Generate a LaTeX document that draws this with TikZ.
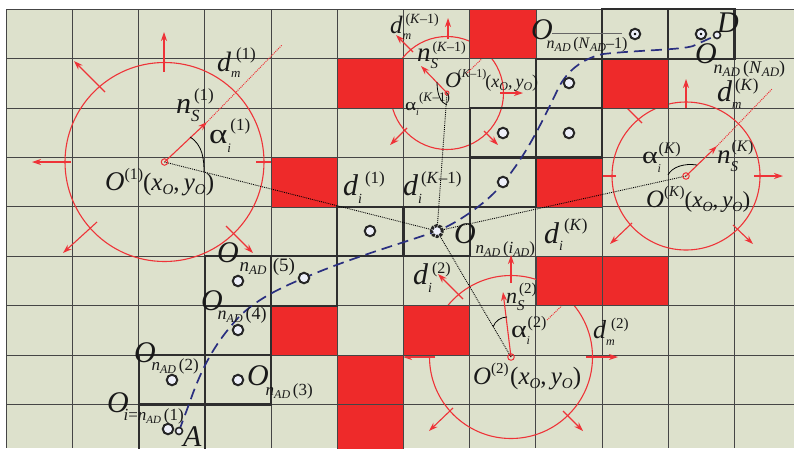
\documentclass[tikz,border=0pt]{standalone}
\usepackage{fontspec}
\usepackage{graphicx}
\setmainfont{Liberation Serif}
\usetikzlibrary{arrows.meta}
\newcommand\SZ[2]{{\fontsize{#1}{#1}\selectfont #2}}
\newcommand\UP[2]{\raisebox{#1pt}{#2}}
\newcommand\AL[1]{\SZ{#1}{\scalebox{1.25}[1]{α}}}
% main letter, then superscript (raise,content) and subscript (drop,content)
\newcommand\SupSub[4]{\rlap{\UP{#1}{#2}}\UP{-#3}{#4}}
\newcommand\Pos[3]{\SZ{#1}{(\textit{x}}\UP{-#3}{\SZ{#2}{\textit{O}}}\SZ{#1}{,\,\textit{y}}\UP{-#3}{\SZ{#2}{\textit{O}}}\SZ{#1}{)}}
\newcommand\NAD[3]{\SZ{#1}{\textit{n}}\UP{-3}{\SZ{#2}{\textit{AD}}}\SZ{#1}{\,#3}}
\definecolor{cellbg}{HTML}{DDE1CC}
\definecolor{gridc}{HTML}{454545}
\definecolor{redc}{HTML}{EE2A2A}
\definecolor{arrc}{HTML}{EE3338}
\definecolor{pathc}{HTML}{2A2F80}
\definecolor{ptc}{HTML}{EEF0FA}
\tikzset{
  lbl/.style={anchor=base west,inner sep=0pt,outer sep=0pt,text=black!90},
  ring/.style={draw=arrc,line width=1.1pt},
  radial/.style={draw=arrc,line width=1.1pt,-{Stealth[length=9pt,width=6pt]}},
  dotred/.style={draw=arrc,line width=1pt,densely dotted},
  dotblack/.style={draw=black,line width=0.9pt,densely dotted},
  swing/.style={draw=black,line width=0.8pt},
  thickcell/.style={draw=black!82,line width=2.2pt},
  redcell/.style={fill=redc,draw=gridc,line width=0.7pt},
  pt/.style={circle,draw=black!85,fill=ptc,line width=2pt,minimum size=10.5pt,inner sep=0pt},
  ptsmall/.style={circle,draw=black!85,fill=ptc,line width=1.6pt,minimum size=7pt,inner sep=0pt},
  ctr/.style={circle,draw=arrc,line width=1pt,minimum size=6.5pt,inner sep=0pt},
}
\newcommand\Cell[2]{(6.3+66.2*#1,9.3+49.4*#2) rectangle (72.5+66.2*#1,58.7+49.4*#2)}
\begin{document}
\begin{tikzpicture}[x=1pt,y=-1pt]
\useasboundingbox (0,0) rectangle (794,448);
\begin{scope}
\clip (0,0) rectangle (794,448);
\fill[cellbg] (6.3,9.3) rectangle (794,448);
% grid
\foreach \i in {0,...,11} \draw[gridc,line width=1.1pt] (6.3+66.2*\i,9.3) -- (6.3+66.2*\i,448);
\foreach \j in {0,...,8} \draw[gridc,line width=1.1pt] (6.3,9.3+49.4*\j) -- (794,9.3+49.4*\j);
% sensing centres
\coordinate (C1) at (164.5,162);
\coordinate (CK1) at (447,93);
\coordinate (CK) at (686,176);
\coordinate (C2) at (511,357);
\coordinate (Hub) at (437,231);
% rings
\draw[ring] (C1) circle (99.5);
\draw[ring] (CK1) circle (56.5);
\draw[ring] (CK) circle (74);
\draw[ring] (C2) circle (81.5);
% outward arrows, ring 1
\draw[radial] (164,72) -- (164,32);
\draw[radial] (71,162) -- (32,162);
\draw[radial] (256,162) -- (297,162);
\draw[radial] (105,92) -- (74,61);
\draw[radial] (97,222) -- (63,253);
\draw[radial] (226,226) -- (253,253);
\draw[radial] (C1) -- (207,122);
\draw[dotred] (207,122) -- (282,45);
% ring K-1
\draw[radial] (448,39) -- (448,18);
\draw[radial] (413,52) -- (396,35);
\draw[radial] (500,93) -- (523,93);
\draw[radial] (407,128) -- (390,145);
\draw[radial] (484,131) -- (498,145);
\draw[radial] (CK1) -- (421,66);
\draw[dotred] (466,74) -- (490,51);
% ring K
\draw[radial] (686,108) -- (686,79);
\draw[radial] (642,123) -- (610,91);
\draw[radial] (754,176) -- (783,176);
\draw[radial] (616,176) -- (585,176);
\draw[radial] (632,223) -- (610,244);
\draw[radial] (733,225) -- (753,244);
\draw[radial] (CK) -- (717,146);
\draw[dotred] (717,146) -- (772,89);
% ring 2
\draw[radial] (511,283) -- (511,255);
\draw[radial] (463,299) -- (438,274);
\draw[radial] (586,357) -- (618,357);
\draw[radial] (435,357) -- (403,357);
\draw[radial] (453,408) -- (429,431);
\draw[radial] (563,411) -- (583,431);
\draw[radial] (C2) -- (503,292);
\draw[dotred] (547,320) -- (575,293);
% obstacles
\foreach \c/\r in {4/3,5/1,7/0,9/1,8/3,8/5,9/5,4/6,6/6,5/7,5/8}
  \draw[redcell] \Cell{\c}{\r};
% route cells
\foreach \c/\r in {2/8,2/7,3/7,3/6,3/5,4/5,5/4,6/4,7/3,7/2,8/2,8/1,9/0,10/0}
  \draw[thickcell] \Cell{\c}{\r};
% lines of sight
\draw[dotblack] (C1) -- (Hub);
\draw[dotblack] (CK1) -- (Hub);
\draw[dotblack] (CK) -- (Hub);
\draw[dotblack] (C2) -- (Hub);
% swing arcs
\draw[swing] (190,137) .. controls (203,145) and (204,160) .. (204,172);
\draw[swing] (437,82) .. controls (437,95) and (441,103) .. (447,105);
\draw[swing] (668,175) .. controls (672,167) and (684,163) .. (697,165);
\draw[swing] (493,327) .. controls (495,321) and (501,317) .. (507,317);
% route
\draw[pathc,line width=1.7pt,dash pattern=on 11pt off 6pt] (179,431) .. controls (183,420) and (187,410) .. (193,393) .. controls (204,364) and (216,342) .. (238,318) .. controls (255,300) and (280,288) .. (304,278) .. controls (350,258) and (400,244) .. (437,231) .. controls (460,222) and (490,200) .. (503,183) .. controls (530,150) and (545,115) .. (560,85) .. controls (570,68) and (585,58) .. (603,54) .. controls (640,50) and (680,50) .. (693,46) -- (717,35);
\draw[line width=1pt,black!60] (552,33.5) -- (622,33.5);
% points
\foreach \n/\x/\y in {a/168/429,b/172/380,c/238/380,d/238/330,e/238/281,f/304/278,g/370/231,h/503/133,i/503/182,j/569/83,k/569/133,l/635/34,m/701/34}
  \node[pt] (p\n) at (\x,\y) {};
\node[circle,fill=black,inner sep=0.9pt] (dl) at (635,34) {};
\node[circle,fill=black,inner sep=0.9pt] (dm) at (701,34) {};
\node[ptsmall] (pA) at (179,431) {};
\node[ptsmall] (pD) at (717,35) {};
\node[pt,line width=3pt,dash pattern=on 3pt off 1pt,minimum size=11pt] (pHub) at (Hub) {};
\node[ctr] (c1) at (C1) {};
\node[ctr] (c2) at (C2) {};
\node[ctr] (cK) at (CK) {};
\node[ctr,minimum size=4pt] (cK1) at (CK1) {};
\end{scope}
% labels: rings
\node[lbl] (t1) at (105,190) {\SZ{27}{\textit{O}}\UP{11}{\SZ{16}{(1)}}\Pos{25}{15}{4}};
\node[lbl] (t2) at (473,384) {\SZ{25}{\textit{O}}\UP{11}{\SZ{15}{(2)}}\,\Pos{25}{15}{4}};
\node[lbl] (t3) at (646,207) {\SZ{25}{\textit{O}}\UP{11}{\SZ{15}{(\textit{K})}}\Pos{23}{14}{4}};
\node[lbl] (t4) at (445,87) {\SZ{22}{\textit{O}}\UP{10}{\kern-3pt\SZ{12}{(\textit{K}–1)}}\kern-1pt\Pos{18}{12}{3}};
% d_m
\node[lbl] (t5) at (217,71) {\SZ{28}{\textit{d}}\SupSub{12}{\kern5pt\SZ{17}{(1)}}{6}{\SZ{13}{\textit{m}}}};
\node[lbl] (t6) at (390,33) {\SZ{25}{\textit{d}}\SupSub{10}{\kern3pt\SZ{14}{(\textit{K}–1)}}{6}{\SZ{12}{\textit{m}}}};
\node[lbl] (t7) at (717,101) {\SZ{30}{\textit{d}}\SupSub{11}{\kern3pt\SZ{17}{(\textit{K})}}{7}{\SZ{13}{\textit{m}}}};
\node[lbl] (t8) at (593,338) {\SZ{26}{\textit{d}}\SupSub{10}{\kern5pt\SZ{15}{(2)}}{7}{\SZ{12}{\textit{m}}}};
% n_S
\node[lbl] (t9) at (176,113) {\SZ{30}{\textit{n}}\SupSub{13}{\kern3pt\SZ{17}{(1)}}{8}{\SZ{17}{\textit{S}}}};
\node[lbl] (t10) at (417,61) {\SZ{27}{\textit{n}}\SupSub{10}{\kern2pt\SZ{14}{(\textit{K}–1)}}{7}{\SZ{15}{\textit{S}}}};
\node[lbl] (t11) at (717,163) {\SZ{27}{\textit{n}}\SupSub{12}{\kern1pt\SZ{16}{(\textit{K})}}{8}{\SZ{15}{\textit{S}}}};
\node[lbl] (t12) at (506,303) {\SZ{22}{\textit{n}}\SupSub{10}{\kern2pt\SZ{15}{(2)}}{7}{\SZ{15}{\textit{S}}}};
% alpha
\node[lbl] (t13) at (209,143) {\AL{28}\SupSub{13}{\kern3pt\SZ{17}{(1)}}{9}{\SZ{13}{\textit{i}}}};
\node[lbl] (t14) at (405,110) {\AL{17}\SupSub{9}{\kern3pt\SZ{13}{(\textit{K}–1)}}{5}{\SZ{10}{\textit{i}}}};
\node[lbl] (t15) at (642,163) {\AL{24}\SupSub{10}{\kern1pt\SZ{16}{(\textit{K})}}{9}{\SZ{12}{\textit{i}}}};
\node[lbl] (t16) at (511,337) {\AL{24}\SupSub{10}{\kern1pt\SZ{16}{(2)}}{7}{\SZ{12}{\textit{i}}}};
% d_i
\node[lbl] (t17) at (343,195) {\SZ{30}{\textit{d}}\SupSub{12}{\kern7pt\SZ{17}{(1)}}{8}{\SZ{14}{\textit{i}}}};
\node[lbl] (t18) at (403,195) {\SZ{30}{\textit{d}}\SupSub{12}{\kern3pt\SZ{17}{(\textit{K}–1)}}{8}{\SZ{14}{\textit{i}}}};
\node[lbl] (t19) at (544,243) {\SZ{30}{\textit{d}}\SupSub{13}{\kern5pt\SZ{17}{(\textit{K})}}{7}{\SZ{14}{\textit{i}}}};
\node[lbl] (t20) at (413,284) {\SZ{30}{\textit{d}}\SupSub{11}{\kern4pt\SZ{16}{(2)}}{8}{\SZ{14}{\textit{i}}}};
% route points
\node[lbl] (t21) at (454,243) {\SZ{30}{\textit{O}}\UP{-10}{\NAD{17}{12}{(\textit{i}\UP{-3}{\SZ{12}{\textit{AD}}})}}};
\node[lbl] (t22) at (531,39) {\SZ{30}{\textit{O}}\UP{-9}{\kern-6pt\NAD{16}{12}{(\textit{N}\UP{-3}{\SZ{12}{\textit{AD}}}–1)}}};
\node[lbl] (t23) at (695,63) {\SZ{30}{\textit{O}}\UP{-10}{\kern-3pt\NAD{18}{13}{(\textit{N}\UP{-3}{\SZ{13}{\textit{AD}}})}}};
\node[lbl] (t24) at (217,262) {\SZ{30}{\textit{O}}\UP{-9}{\kern1pt\NAD{19}{13}{\,(5)}}};
\node[lbl] (t25) at (201,310) {\SZ{30}{\textit{O}}\UP{-9}{\kern-5pt\NAD{18}{12}{(4)}}};
\node[lbl] (t26) at (134,362) {\SZ{30}{\textit{O}}\UP{-8}{\kern-4pt\NAD{17}{12}{(2)}}};
\node[lbl] (t27) at (247,385) {\SZ{30}{\textit{O}}\UP{-10}{\kern-3pt\NAD{17}{12}{(3)}}};
\node[lbl] (t28) at (107,412) {\SZ{30}{\textit{O}}\UP{-8}{\kern-5pt\SZ{17}{\textit{i}=}\NAD{17}{11}{(1)}}};
\node[lbl] (t29) at (183,446) {\SZ{30}{\textit{A}}};
\node[lbl] (t30) at (717,32) {\SZ{30}{\textit{D}}};
\end{tikzpicture}
\end{document}
